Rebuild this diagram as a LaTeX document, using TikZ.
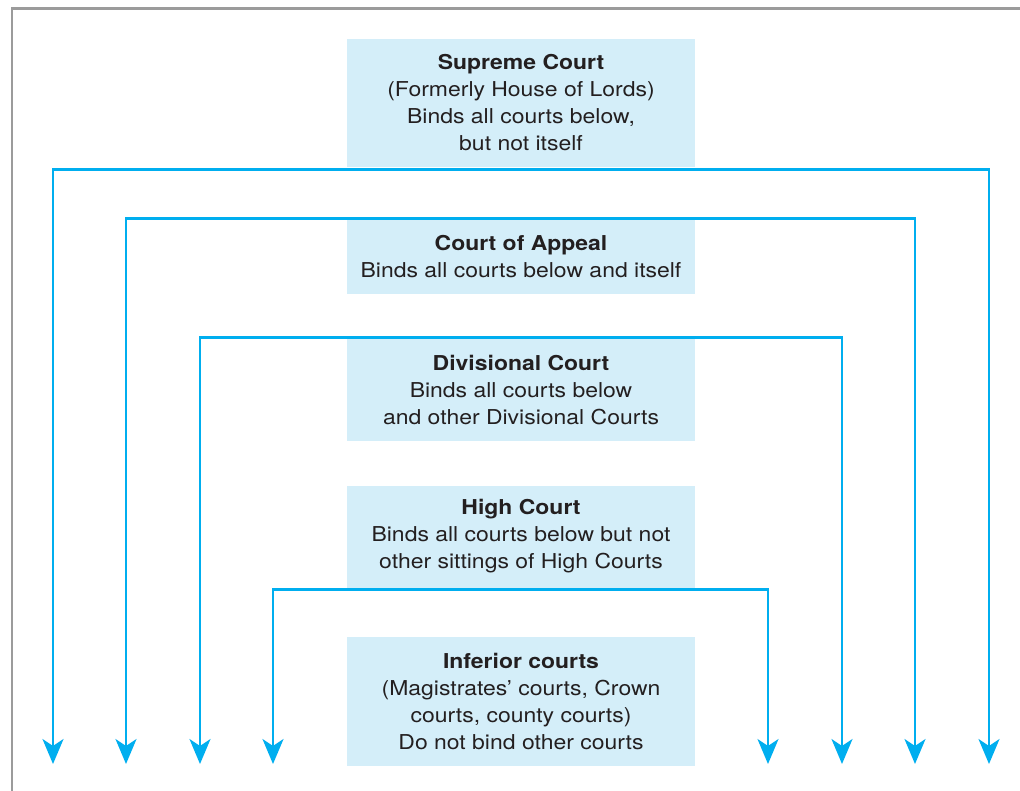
\documentclass[tikz,border=0pt]{standalone}
\usepackage{fontspec}
\setmainfont{TeX Gyre Heros}[FakeStretch=1.12]
\usetikzlibrary{arrows.meta}
\definecolor{boxfill}{HTML}{D4EEF9}
\definecolor{linkblue}{HTML}{00AEEF}
\definecolor{framegray}{HTML}{9B9B9B}
\definecolor{txt}{HTML}{231F20}
\tikzset{
  court/.style={fill=boxfill, draw=none, inner sep=0pt, minimum width=348pt,
    align=center, text=txt, font=\fontsize{20.5}{27}\selectfont},
  link/.style={draw=linkblue, line width=2.5pt, miter limit=10,
    -{Stealth[length=25pt,width=21pt,inset=7pt]}},
  framestyle/.style={draw=framegray, line width=2.5pt}
}
\begin{document}
\begin{tikzpicture}[x=1pt,y=-1pt]
\useasboundingbox (0,0) rectangle (1020,790);
\fill[white] (0,0) rectangle (1020,790);
\draw[framestyle] (12,791) -- (12,8.5) -- (1021,8.5);

\node[court, minimum height=128pt] (sup) at (521,103)
  {\textbf{Supreme Court}\\(Formerly House of Lords)\\Binds all courts below,\\but not itself};
\node[court, minimum height=75pt] (app) at (521,256.5)
  {\textbf{Court of Appeal}\\Binds all courts below and itself};
\node[court, minimum height=102.5pt] (div) at (521,390)
  {\textbf{Divisional Court}\\Binds all courts below\\and other Divisional Courts};
\node[court, minimum height=102pt] (high) at (521,536.5)
  {\textbf{High Court}\\Binds all courts below but not\\other sittings of High Courts};
\node[court, minimum height=129pt] (inf) at (521,701.5)
  {\textbf{Inferior courts}\\(Magistrates’ courts, Crown\\courts, county courts)\\Do not bind other courts};

% arrow end points
\coordinate (sL) at (53,764);   \coordinate (sR) at (989,764);
\coordinate (aL) at (126,764);  \coordinate (aR) at (915,764);
\coordinate (dL) at (200,764);  \coordinate (dR) at (842,764);
\coordinate (hL) at (273,764);  \coordinate (hR) at (768,764);

\coordinate (sBar) at ([yshift=-2.5pt]sup.south);
\coordinate (aBar) at ([yshift=0.5pt]app.north);
\coordinate (dBar) at ([yshift=1pt]div.north);
\coordinate (hBar) at ([yshift=-2pt]high.south);

\foreach \b/\l/\r in {sBar/sL/sR, aBar/aL/aR, dBar/dL/dR, hBar/hL/hR}{
  \draw[link] (\b) -| (\l);
  \draw[link] (\b) -| (\r);
}
\end{tikzpicture}
\end{document}
